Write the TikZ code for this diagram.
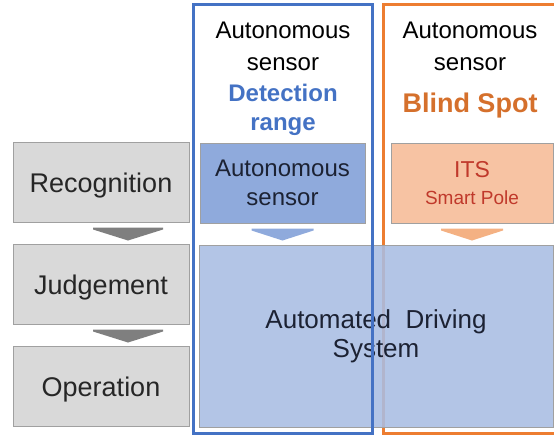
\documentclass[tikz,border=0pt]{standalone}
\usepackage{fontspec}
\setmainfont{Liberation Sans}
\usetikzlibrary{calc}

\definecolor{boxgray}{HTML}{D9D9D9}
\definecolor{edgegray}{HTML}{A0A0A0}
\definecolor{arrowgray}{HTML}{7F7F7F}
\definecolor{rangeblue}{HTML}{4472C4}
\definecolor{sensorblue}{HTML}{8FAADC}
\definecolor{adsblue}{HTML}{A9BDE3}
\definecolor{spotorange}{HTML}{ED7D31}
\definecolor{polefill}{HTML}{F7C3A3}
\definecolor{poletext}{HTML}{C0392B}
\definecolor{arroworange}{HTML}{F4B183}
\definecolor{navytext}{HTML}{1C2233}

\tikzset{
  stagebox/.style={draw=edgegray, line width=1pt, fill=boxgray, minimum width=176pt,
    minimum height=80pt, inner sep=0pt, text height=26pt, text depth=5pt,
    font=\fontsize{27}{30}\selectfont, text=black!85},
  unitbox/.style={draw=edgegray, line width=1pt, minimum height=80pt, inner sep=0pt,
    align=center},
  toplabel/.style={align=center, inner sep=0pt, font=\fontsize{24}{32}\selectfont},
}

\begin{document}
\begin{tikzpicture}[x=1pt, y=-1pt]
  \useasboundingbox (0,0) rectangle (554,436);

  % processing stages on the left
  \node[stagebox] (rec) at (101,182) {Recognition};
  \node[stagebox] (jud) at (101,284) {Judgement};
  \node[stagebox] (ope) at (101,386) {Operation};

  \fill[arrowgray] ($(rec.south)+(-8,5)$) -- ++(70,0) -- ++(0,2) -- ++(-35,11) -- ++(-35,-11) -- cycle;
  \fill[arrowgray] ($(jud.south)+(-8,5)$) -- ++(70,0) -- ++(0,2) -- ++(-35,11) -- ++(-35,-11) -- cycle;

  % column headings
  \node[toplabel] (lefthead) at (283,79) {Autonomous\\sensor\\[-1pt]
    \textcolor{rangeblue}{\bfseries Detection}\\[-3pt]\textcolor{rangeblue}{\bfseries range}};
  \node[toplabel] (righthead) at (470,70) {Autonomous\\sensor\\[10pt]
    \textcolor{spotorange!90!black}{\fontsize{27}{32}\selectfont\bfseries Blind Spot}};

  % sensing units
  \node[unitbox, fill=sensorblue, minimum width=165pt, text=navytext,
    font=\fontsize{24}{29}\selectfont] (sensor) at (282.5,183) {Autonomous\\sensor};
  \node[unitbox, fill=polefill, minimum width=162pt, text=poletext,
    font=\fontsize{19}{27}\selectfont] (pole) at (472,183)
    {{\fontsize{23}{27}\selectfont ITS}\\Smart Pole};

  \fill[sensorblue] ($(sensor.south)+(-31,5)$) -- ++(62,0) -- ++(0,2) -- ++(-31,10) -- ++(-31,-10) -- cycle;
  \fill[arroworange] ($(pole.south)+(-31,5)$) -- ++(62,0) -- ++(0,2) -- ++(-31,10) -- ++(-31,-10) -- cycle;

  % blind spot frame, partly covered by the system block
  \draw[spotorange, line width=3pt] (556,5) -- (383.5,5) -- (383.5,433) -- (556,433);

  % automated driving system
  \node[draw=edgegray, line width=1pt, fill=adsblue, fill opacity=0.88, text opacity=1,
    minimum width=354pt, minimum height=182pt, inner sep=0pt, align=center,
    text=navytext, font=\fontsize{26}{29}\selectfont] (ads) at (376,336)
    {Automated\ \ Driving\\System};

  % detection range frame
  \draw[rangeblue, line width=3pt] (193.5,5) rectangle (372,433);
\end{tikzpicture}
\end{document}
